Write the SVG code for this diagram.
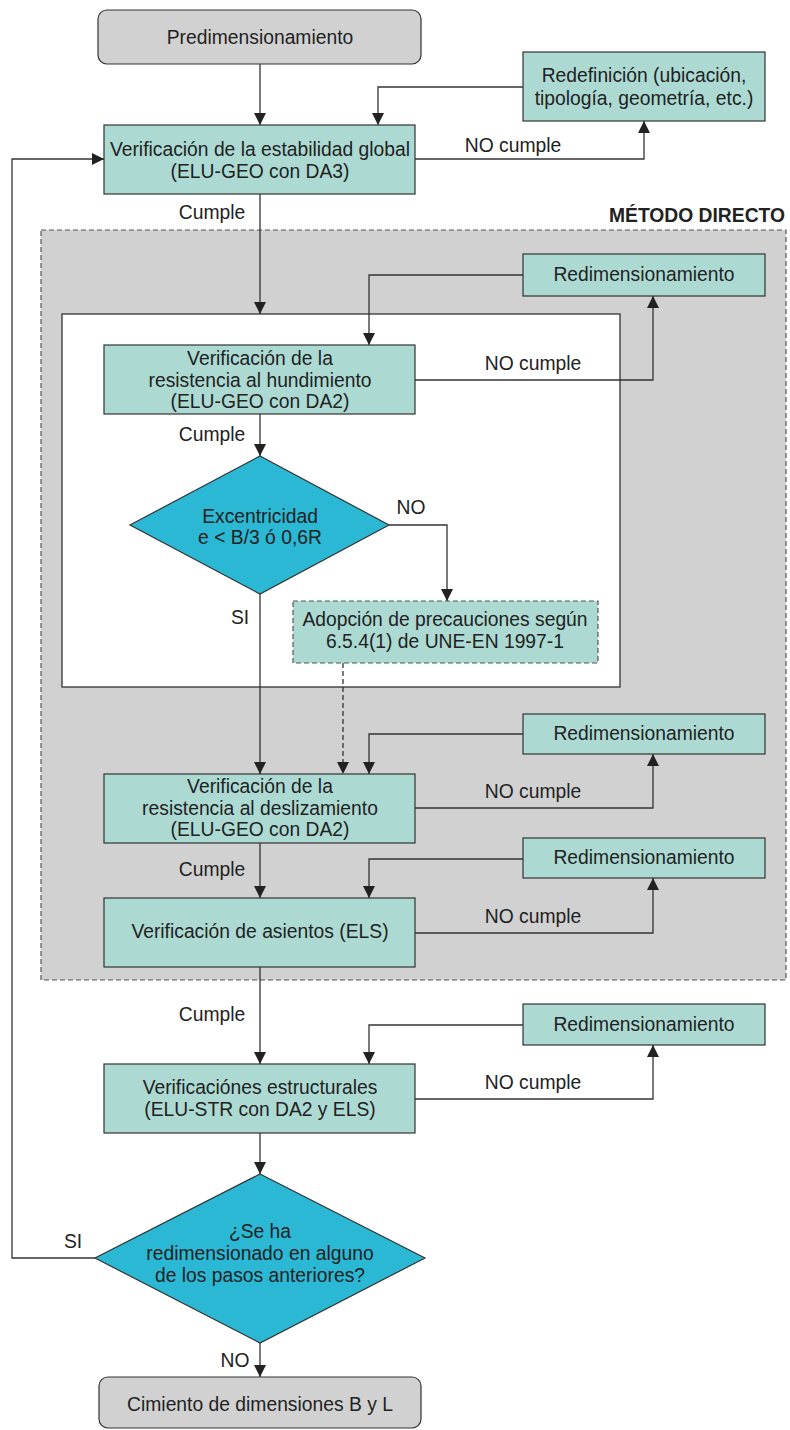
<svg xmlns="http://www.w3.org/2000/svg" width="790" height="1430" viewBox="0 0 790 1430">
<style>
text{font-family:"Liberation Sans",Arial,sans-serif;font-size:19.3px;fill:#222;}
.c{text-anchor:middle;}
.b{font-weight:bold;}
.gray{fill:#d1d1d1;stroke:#333;stroke-width:1.2;}
.teal{fill:#acdad3;stroke:#333;stroke-width:1.2;}
.dia{fill:#2bb8d4;stroke:#333;stroke-width:1.2;}
.ln{fill:none;stroke:#333;stroke-width:1.3;}
.dash{stroke-dasharray:5,3;}
</style>
<defs>
<marker id="ah" markerWidth="12" markerHeight="12" refX="12" refY="6" orient="auto" markerUnits="userSpaceOnUse">
<path d="M0,0 L12,6 L0,12 Z" fill="#222"/>
</marker>
</defs>
<g id="metodo-directo">
<rect x="41" y="230" width="745" height="750" fill="#d1d1d1" stroke="#555" stroke-width="1.2" stroke-dasharray="5,3"/>
<text x="785" y="222" class="b" text-anchor="end">MÉTODO DIRECTO</text>
</g>
<g id="grupo-hundimiento">
<rect x="62" y="314" width="558" height="373" fill="#fff" stroke="#333" stroke-width="1.3"/>
</g>
<g id="connectors">
<path class="ln" d="M260,64 V125" marker-end="url(#ah)"/>
<path class="ln" d="M523,87 H378 V125" marker-end="url(#ah)"/>
<path class="ln" d="M415,159 H644 V121" marker-end="url(#ah)"/>
<path class="ln" d="M260,194 V314" marker-end="url(#ah)"/>
<path class="ln" d="M523,275 H369 V345" marker-end="url(#ah)"/>
<path class="ln" d="M415,380 H653 V296" marker-end="url(#ah)"/>
<path class="ln" d="M260,414 V456" marker-end="url(#ah)"/>
<path class="ln" d="M389,525 H447 V601" marker-end="url(#ah)"/>
<path class="ln" d="M260,594 V774" marker-end="url(#ah)"/>
<path class="ln dash" d="M343,663 V774" marker-end="url(#ah)"/>
<path class="ln" d="M523,734 H369 V774" marker-end="url(#ah)"/>
<path class="ln" d="M415,808 H653 V754" marker-end="url(#ah)"/>
<path class="ln" d="M260,843 V898" marker-end="url(#ah)"/>
<path class="ln" d="M523,859 H369 V898" marker-end="url(#ah)"/>
<path class="ln" d="M415,933 H653 V878" marker-end="url(#ah)"/>
<path class="ln" d="M260,967 V1064" marker-end="url(#ah)"/>
<path class="ln" d="M523,1025 H369 V1064" marker-end="url(#ah)"/>
<path class="ln" d="M415,1099 H653 V1045" marker-end="url(#ah)"/>
<path class="ln" d="M260,1133 V1174" marker-end="url(#ah)"/>
<path class="ln" d="M95,1258 H12 V159 H104" marker-end="url(#ah)"/>
<path class="ln" d="M260,1343 V1377" marker-end="url(#ah)"/>
<text x="513" y="152" class="c">NO cumple</text>
<text x="212" y="219" class="c">Cumple</text>
<text x="533" y="370" class="c">NO cumple</text>
<text x="212" y="441" class="c">Cumple</text>
<text x="411" y="514" class="c">NO</text>
<text x="240" y="624" class="c">SI</text>
<text x="533" y="798" class="c">NO cumple</text>
<text x="212" y="876" class="c">Cumple</text>
<text x="533" y="923" class="c">NO cumple</text>
<text x="212" y="1021" class="c">Cumple</text>
<text x="533" y="1089" class="c">NO cumple</text>
<text x="73" y="1248" class="c">SI</text>
<text x="235" y="1367" class="c">NO</text>
</g>
<g id="predimensionamiento">
<rect x="98" y="10" width="323" height="54" rx="9" class="gray"/>
<text x="260" y="44" class="c">Predimensionamiento</text>
</g>
<g id="redefinicion">
<rect x="523" y="52" width="242" height="69" class="teal"/>
<text x="644" y="82" class="c">Redefinición (ubicación,</text>
<text x="644" y="105" class="c">tipología, geometría, etc.)</text>
</g>
<g id="estabilidad-global">
<rect x="104" y="125" width="311" height="69" class="teal"/>
<text x="260" y="156" class="c">Verificación de la estabilidad global</text>
<text x="260" y="178" class="c">(ELU-GEO con DA3)</text>
</g>
<g id="redim-1">
<rect x="523" y="254" width="242" height="42" class="teal"/>
<text x="644" y="281" class="c">Redimensionamiento</text>
</g>
<g id="hundimiento">
<rect x="104" y="345" width="311" height="69" class="teal"/>
<text x="260" y="365" class="c">Verificación de la</text>
<text x="260" y="387" class="c">resistencia al hundimiento</text>
<text x="260" y="408" class="c">(ELU-GEO con DA2)</text>
</g>
<g id="excentricidad">
<polygon points="260,456 389,525 260,594 130,525" class="dia"/>
<text x="260" y="523" class="c">Excentricidad</text>
<text x="260" y="544" class="c">e &lt; B/3 ó 0,6R</text>
</g>
<g id="adopcion">
<rect x="293" y="601" width="305" height="62" class="teal" stroke-dasharray="5,3" style="stroke:#555"/>
<text x="445" y="626" class="c">Adopción de precauciones según</text>
<text x="445" y="648" class="c">6.5.4(1) de UNE-EN 1997-1</text>
</g>
<g id="redim-2">
<rect x="523" y="714" width="242" height="40" class="teal"/>
<text x="644" y="740" class="c">Redimensionamiento</text>
</g>
<g id="deslizamiento">
<rect x="104" y="774" width="311" height="69" class="teal"/>
<text x="260" y="793" class="c">Verificación de la</text>
<text x="260" y="815" class="c">resistencia al deslizamiento</text>
<text x="260" y="836" class="c">(ELU-GEO con DA2)</text>
</g>
<g id="redim-3">
<rect x="523" y="838" width="242" height="40" class="teal"/>
<text x="644" y="864" class="c">Redimensionamiento</text>
</g>
<g id="asientos">
<rect x="104" y="898" width="311" height="69" class="teal"/>
<text x="260" y="938" class="c">Verificación de asientos (ELS)</text>
</g>
<g id="redim-4">
<rect x="523" y="1004" width="242" height="41" class="teal"/>
<text x="644" y="1031" class="c">Redimensionamiento</text>
</g>
<g id="estructurales">
<rect x="104" y="1064" width="311" height="69" class="teal"/>
<text x="260" y="1094" class="c">Verificaciónes estructurales</text>
<text x="260" y="1116" class="c">(ELU-STR con DA2 y ELS)</text>
</g>
<g id="redimensionado">
<polygon points="260,1174 425,1258 260,1343 95,1258" class="dia"/>
<text x="260" y="1238" class="c">¿Se ha</text>
<text x="260" y="1260" class="c">redimensionado en alguno</text>
<text x="260" y="1282" class="c">de los pasos anteriores?</text>
</g>
<g id="cimiento">
<rect x="99" y="1377" width="322" height="51" rx="9" class="gray"/>
<text x="260" y="1411" class="c">Cimiento de dimensiones B y L</text>
</g>
</svg>
